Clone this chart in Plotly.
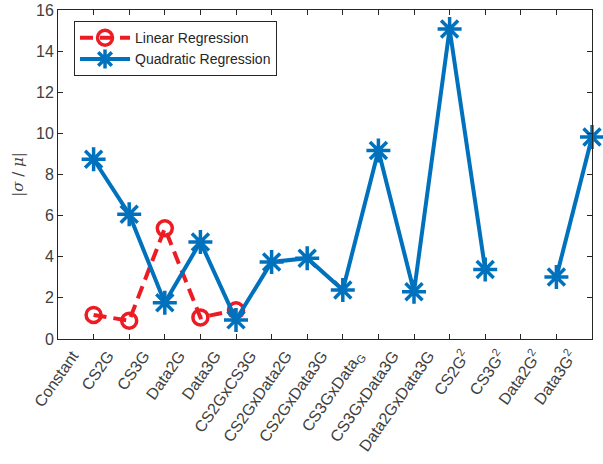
import plotly.graph_objects as go

categories = ["Constant", "CS2G", "CS3G", "Data2G", "Data3G", "CS2GxCS3G",
              "CS2GxData2G", "CS2GxData3G", "CS3GxData<sub>G</sub>", "CS3GxData3G",
              "Data2GxData3G", "CS2G<sup>2</sup>", "CS3G<sup>2</sup>",
              "Data2G<sup>2</sup>", "Data3G<sup>2</sup>"]
linear_vals = [1.17, 0.89, 5.38, 1.05, 1.40, None, None, None, None, None,
               None, None, None, None, None]
quadratic_vals = [8.74, 6.07, 1.76, 4.72, 0.93, 3.75, 3.93, 2.38, 9.17, 2.30,
                  15.08, 3.38, None, 3.02, 9.82]
y_ticks = [0, 2, 4, 6, 8, 10, 12, 14, 16]

RED = "#ED1C24"
BLUE = "#0072BD"
AX = "#262626"
TXT = "#404040"

fig = go.Figure()
fig.add_trace(go.Scatter(
    x=categories, y=linear_vals, name="Linear Regression", mode="lines+markers",
    line=dict(color=RED, width=4, dash="13px,7px"),
    marker=dict(symbol="circle-open", size=15, color=RED, line=dict(width=3.5, color=RED)),
    connectgaps=False, cliponaxis=False,
))
fig.add_trace(go.Scatter(
    x=categories, y=quadratic_vals, name="Quadratic Regression", mode="lines+markers",
    line=dict(color=BLUE, width=4),
    marker=dict(symbol="asterisk-open", size=20, color=BLUE, line=dict(width=3.5, color=BLUE)),
    connectgaps=False, cliponaxis=False,
))

fig.update_layout(
    width=603, height=464,
    margin=dict(l=58, r=11, t=10, b=125, autoexpand=False),
    plot_bgcolor="white", paper_bgcolor="white",
    font=dict(family="Liberation Sans, Arial, sans-serif", size=16, color=TXT),
    showlegend=True,
    legend=dict(
        x=0.03, y=0.966, xanchor="left", yanchor="top",
        bgcolor="white", bordercolor=AX, borderwidth=1,
        font=dict(size=14, color="#262626"),
        tracegroupgap=0, itemwidth=50,
    ),
)
fig.update_xaxes(
    type="category", categoryorder="array", categoryarray=categories,
    range=[-1, 14], showgrid=False, zeroline=False, automargin=False,
    showline=True, linecolor=AX, linewidth=1, mirror="ticks",
    ticks="inside", ticklen=5, tickcolor=AX, tickwidth=1,
    tickangle=-55, tickfont=dict(size=16, color=TXT), ticklabelshift=-21,
)
fig.update_yaxes(
    range=[0, 16], tickvals=y_ticks, showgrid=False, zeroline=False, automargin=False,
    showline=True, linecolor=AX, linewidth=1, mirror="ticks",
    ticks="inside", ticklen=5, tickcolor=AX, tickwidth=1,
    tickfont=dict(size=16, color=TXT),
    title=dict(text="|<i>σ</i> / <i>μ</i>|", standoff=8,
               font=dict(family="DejaVu Serif, Liberation Serif, serif", size=15, color=TXT)),
)

fig.write_html("out.html", config={"displayModeBar": False},
               post_script="document.body.style.margin='0';")
